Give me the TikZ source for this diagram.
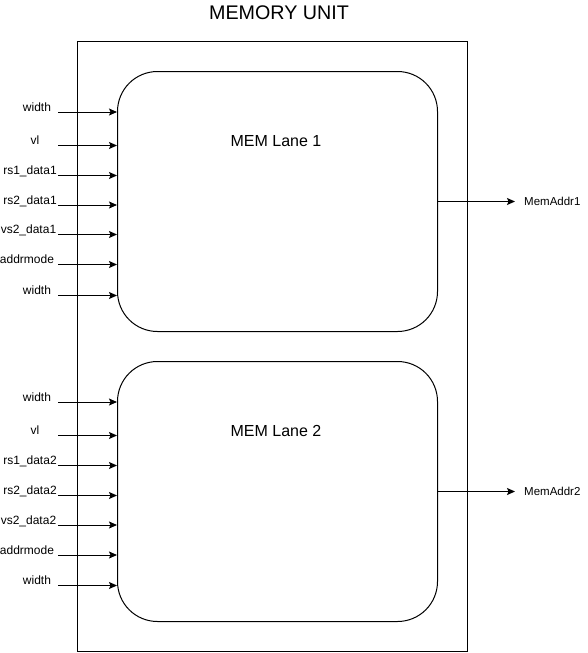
\documentclass[tikz,border=0pt]{standalone}
\usepackage{fontspec}
\setmainfont{Liberation Sans}
\usetikzlibrary{arrows.meta}
\begin{document}
\begin{tikzpicture}[x=1pt,y=-1pt,
  box/.style={draw,line width=1pt,inner sep=0pt},
  lanebox/.style={box,rounded corners=40pt,minimum width=320pt,minimum height=260pt},
  arr/.style={line width=1pt,-{Stealth[length=8pt,width=7pt,inset=1.5pt]}},
  lbl/.style={font=\fontsize{12}{14}\selectfont,inner sep=0pt,anchor=base},
  outlbl/.style={font=\fontsize{11.5}{14}\selectfont,inner sep=0pt,anchor=west},
  lanetxt/.style={font=\fontsize{16}{19}\selectfont,inner sep=0pt,anchor=base},
  titletxt/.style={font=\fontsize{19.7}{23}\selectfont,inner sep=0pt,anchor=base}]
\useasboundingbox (0,0) rectangle (588,653);
\node[box,minimum width=389.5pt,minimum height=610pt] (outer) at (272.25,346) {};
\node[titletxt] (title) at (279,19.5) {MEMORY UNIT};
\node[lanebox] (lane1) at (277.5,201.5) {};
\node[lanebox] (lane2) at (277.5,491.5) {};
\node[lanetxt] (t1) at (276,146.5) {MEM Lane 1};
\node[lanetxt] (t2) at (276,436.5) {MEM Lane 2};
% inputs lane 1
\foreach \i/\y/\x/\t in {1/112/37/width,2/145.5/35/vl,3/175.5/30/rs1\_data1,4/205/30/rs2\_data1,5/234.5/28.5/vs2\_data1,6/264.5/27/addrmode,7/295.5/37/width}{
  \node[lbl] (a\i) at (\x,\y-1) {\t};
  \coordinate (sa\i) at (58,\y);
  \draw[arr] (sa\i) -- (sa\i -| lane1.west);
}
% inputs lane 2
\foreach \i/\y/\x/\t in {1/402/37/width,2/435.5/35/vl,3/465.5/30/rs1\_data2,4/495.5/30/rs2\_data2,5/525/28.5/vs2\_data2,6/555/27/addrmode,7/585.5/37/width}{
  \node[lbl] (b\i) at (\x,\y-1) {\t};
  \coordinate (sb\i) at (58,\y);
  \draw[arr] (sb\i) -- (sb\i -| lane2.west);
}
% outputs
\node[outlbl] (m1) at (524,201.5) {MemAddr1};
\node[outlbl] (m2) at (524,491.5) {MemAddr2};
\draw[arr] (lane1.east) -- ([xshift=-9pt]m1.west);
\draw[arr] (lane2.east) -- ([xshift=-9pt]m2.west);
\end{tikzpicture}
\end{document}
